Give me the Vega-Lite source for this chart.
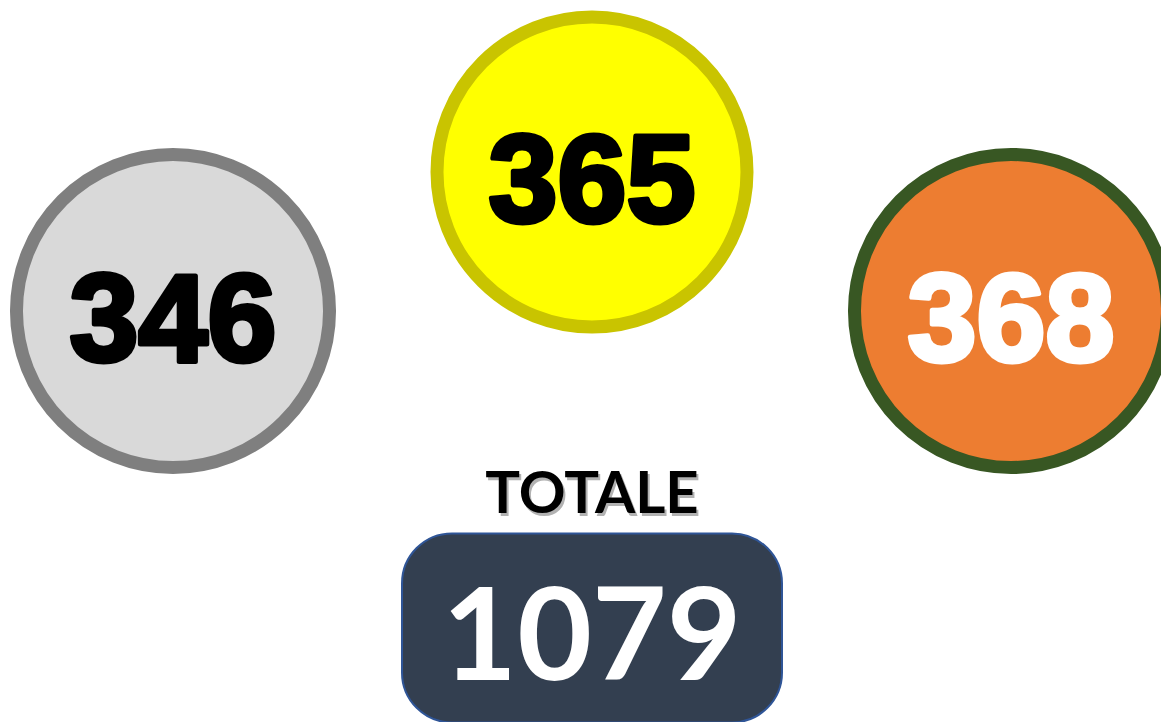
{
  "$schema": "https://vega.github.io/schema/vega-lite/v6.json",
  "width": 1161,
  "height": 722,
  "autosize": {"type": "none"},
  "padding": 0,
  "background": "white",
  "config": {"view": {"stroke": null}},
  "datasets": {
    "cerchi": [
      {"nome": "Grigio", "valore": 346},
      {"nome": "Giallo", "valore": 365},
      {"nome": "Arancio", "valore": 368}
    ],
    "totale": [{"etichetta": "TOTALE", "valore": 1079}]
  },
  "encoding": {
    "x": {"field": "nome", "type": "nominal", "scale": {"type": "point", "domain": ["Grigio", "Giallo", "Arancio"], "range": [173, 1011], "padding": 0}, "axis": null}
  },
  "layer": [
    {
      "data": {"name": "cerchi"},
      "transform": [{"filter": "datum.nome === 'Giallo'"}],
      "encoding": {
        "y": {"datum": 0, "type": "quantitative", "scale": {"domain": [0, 4], "range": [172, 728], "nice": false, "zero": false}, "axis": null}
      },
      "layer": [
        {
          "mark": {"type": "circle", "size": 96100, "strokeWidth": 13, "opacity": 1},
          "encoding": {
            "fill": {"field": "nome", "type": "nominal", "scale": {"domain": ["Grigio", "Giallo", "Arancio"], "range": ["#d9d9d9", "#ffff00", "#ed7d31"]}, "legend": null},
            "stroke": {"field": "nome", "type": "nominal", "scale": {"domain": ["Grigio", "Giallo", "Arancio"], "range": ["#7f7f7f", "#c9c400", "#385723"]}, "legend": null}
          }
        },
        {
          "mark": {"type": "text", "font": "Liberation Sans", "fontWeight": "bold", "fontSize": 124, "dy": 50, "baseline": "alphabetic", "align": "center", "strokeWidth": 5, "strokeJoin": "round"},
          "encoding": {
            "text": {"field": "valore", "type": "quantitative"},
            "fill": {"condition": {"test": "datum.nome === 'Arancio'", "value": "#ffffff"}, "value": "#000000"},
            "stroke": {"condition": {"test": "datum.nome === 'Arancio'", "value": "#ffffff"}, "value": "#000000"}
          }
        }
      ]
    },
    {
      "data": {"name": "cerchi"},
      "transform": [{"filter": "datum.nome !== 'Giallo'"}],
      "encoding": {
        "y": {"datum": 1, "type": "quantitative"}
      },
      "layer": [
        {
          "mark": {"type": "circle", "size": 98000, "strokeWidth": 13, "opacity": 1},
          "encoding": {
            "fill": {"field": "nome", "type": "nominal", "legend": null},
            "stroke": {"field": "nome", "type": "nominal", "legend": null}
          }
        },
        {
          "mark": {"type": "text", "font": "Liberation Sans", "fontWeight": "bold", "fontSize": 124, "dy": 50, "baseline": "alphabetic", "align": "center", "strokeWidth": 5, "strokeJoin": "round"},
          "encoding": {
            "text": {"field": "valore", "type": "quantitative"},
            "fill": {"condition": {"test": "datum.nome === 'Arancio'", "value": "#ffffff"}, "value": "#000000"},
            "stroke": {"condition": {"test": "datum.nome === 'Arancio'", "value": "#ffffff"}, "value": "#000000"}
          }
        }
      ]
    },
    {
      "data": {"name": "totale"},
      "layer": [
        {
          "mark": {"type": "rect", "width": 380, "cornerRadius": 50, "fill": "#333f50", "stroke": "#2f5597", "strokeWidth": 2},
          "encoding": {
            "x": {"datum": "Giallo", "type": "nominal"},
            "y": {"datum": 2.6, "type": "quantitative"},
            "y2": {"datum": 3.96}
          }
        },
        {
          "mark": {"type": "text", "font": "Lato", "fontWeight": "bold", "fontSize": 58, "baseline": "alphabetic", "align": "center", "dx": 2, "dy": 3, "fill": "#7f7f7f", "opacity": 0.6},
          "encoding": {
            "x": {"datum": "Giallo", "type": "nominal"},
            "y": {"datum": 2.45, "type": "quantitative"},
            "text": {"field": "etichetta", "type": "nominal"}
          }
        },
        {
          "mark": {"type": "text", "font": "Lato", "fontWeight": "bold", "fontSize": 58, "baseline": "alphabetic", "align": "center", "fill": "#000000"},
          "encoding": {
            "x": {"datum": "Giallo", "type": "nominal"},
            "y": {"datum": 2.45, "type": "quantitative"},
            "text": {"field": "etichetta", "type": "nominal"}
          }
        },
        {
          "mark": {"type": "text", "font": "Lato", "fontWeight": "bold", "fontSize": 129, "baseline": "alphabetic", "align": "center", "fill": "#ffffff"},
          "encoding": {
            "x": {"datum": "Giallo", "type": "nominal"},
            "y": {"datum": 3.655, "type": "quantitative"},
            "text": {"field": "valore", "type": "quantitative"}
          }
        }
      ]
    }
  ]
}
